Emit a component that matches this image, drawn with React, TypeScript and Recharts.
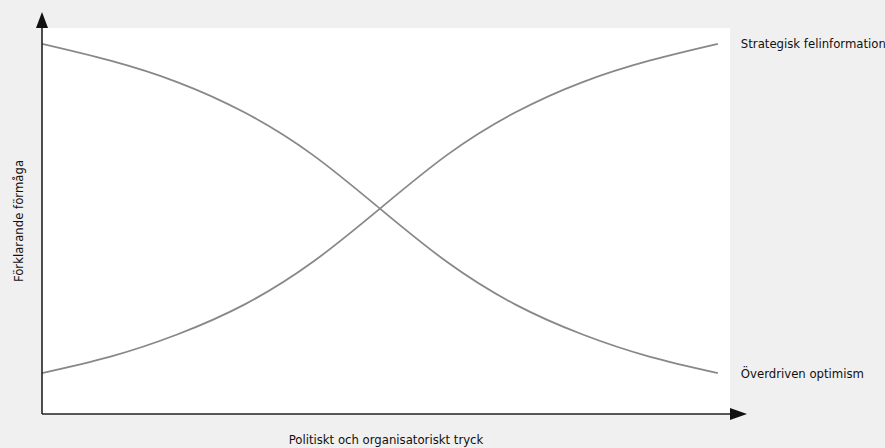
import React from 'react';
import { LineChart, Line, XAxis, YAxis, CartesianGrid, ReferenceDot, Label } from 'recharts';

const xValues = [0, 10, 20, 30, 40, 50, 60, 70, 80, 90, 100];
const optimism = [95.9, 91.6, 86.0, 78.1, 67.2, 53.2, 39.3, 28.4, 20.6, 14.8, 10.6];
const misinformation = [10.6, 14.8, 20.6, 28.4, 39.3, 53.2, 67.2, 78.1, 86.0, 91.6, 95.9];
const seriesNames = ['Överdriven optimism', 'Strategisk felinformation'];
const xTitle = 'Politiskt och organisatoriskt tryck';
const yTitle = 'Förklarande förmåga';

const data = xValues.map((x, i) => ({ x, optimism: optimism[i], misinformation: misinformation[i] }));

const FONT = '"DejaVu Sans Condensed", "Liberation Sans Narrow", sans-serif';
const FS = 13;
const LINE = '#888888';

const endLabel = (name: string) => (p: any) => {
  if (p.index !== xValues.length - 1) return <g key={`l-${p.index}`} />;
  return (
    <text key={`l-${p.index}`} x={p.x + 23} y={p.y} dominantBaseline="central" fontSize={FS} fontFamily={FONT} fill="#111">
      {name}
    </text>
  );
};

export default function App() {
  return (
    <div style={{ position: 'absolute', left: 0, top: 0, width: 885, height: 448, background: '#f0f0f0' }}>
      <LineChart width={885} height={448} data={data} margin={{ top: 28, right: 155, bottom: 0, left: 0 }}>
        <CartesianGrid fill="#ffffff" horizontal={false} vertical={false} />
        <XAxis dataKey="x" type="number" domain={[0, 101.8]} allowDataOverflow tick={false} tickLine={false} height={34}
          axisLine={{ stroke: '#222', strokeWidth: 1.6 }}>
          <Label content={(p: any) => {
            const vb = p.viewBox;
            return <text x={vb.x + vb.width / 2} y={vb.y + 25} textAnchor="middle" dominantBaseline="central" fontSize={FS} fontFamily={FONT} fill="#111">{xTitle}</text>;
          }} />
        </XAxis>
        <YAxis type="number" domain={[0, 100]} tick={false} tickLine={false} width={42}
          axisLine={{ stroke: '#222', strokeWidth: 1.6 }}>
          <Label content={(p: any) => {
            const vb = p.viewBox;
            const cx = vb.x + 18;
            const cy = vb.y + vb.height / 2;
            return <text x={cx} y={cy} transform={`rotate(-90 ${cx} ${cy})`} textAnchor="middle" dominantBaseline="central" fontSize={FS} fontFamily={FONT} fill="#111">{yTitle}</text>;
          }} />
        </YAxis>
        <Line dataKey="optimism" type="natural" stroke={LINE} strokeWidth={1.8} dot={false} isAnimationActive={false} label={endLabel(seriesNames[0])} />
        <Line dataKey="misinformation" type="natural" stroke={LINE} strokeWidth={1.8} dot={false} isAnimationActive={false} label={endLabel(seriesNames[1])} />
        <ReferenceDot x={0} y={100} r={0} isFront shape={(p: any) => (
          <path d={`M${p.cx - 6},${p.cy} L${p.cx + 6},${p.cy} L${p.cx},${p.cy - 16} Z`} fill="#111" />
        )} />
        <ReferenceDot x={101.8} y={0} r={0} isFront shape={(p: any) => (
          <path d={`M${p.cx},${p.cy - 6} L${p.cx},${p.cy + 6} L${p.cx + 17},${p.cy} Z`} fill="#111" />
        )} />
      </LineChart>
    </div>
  );
}
